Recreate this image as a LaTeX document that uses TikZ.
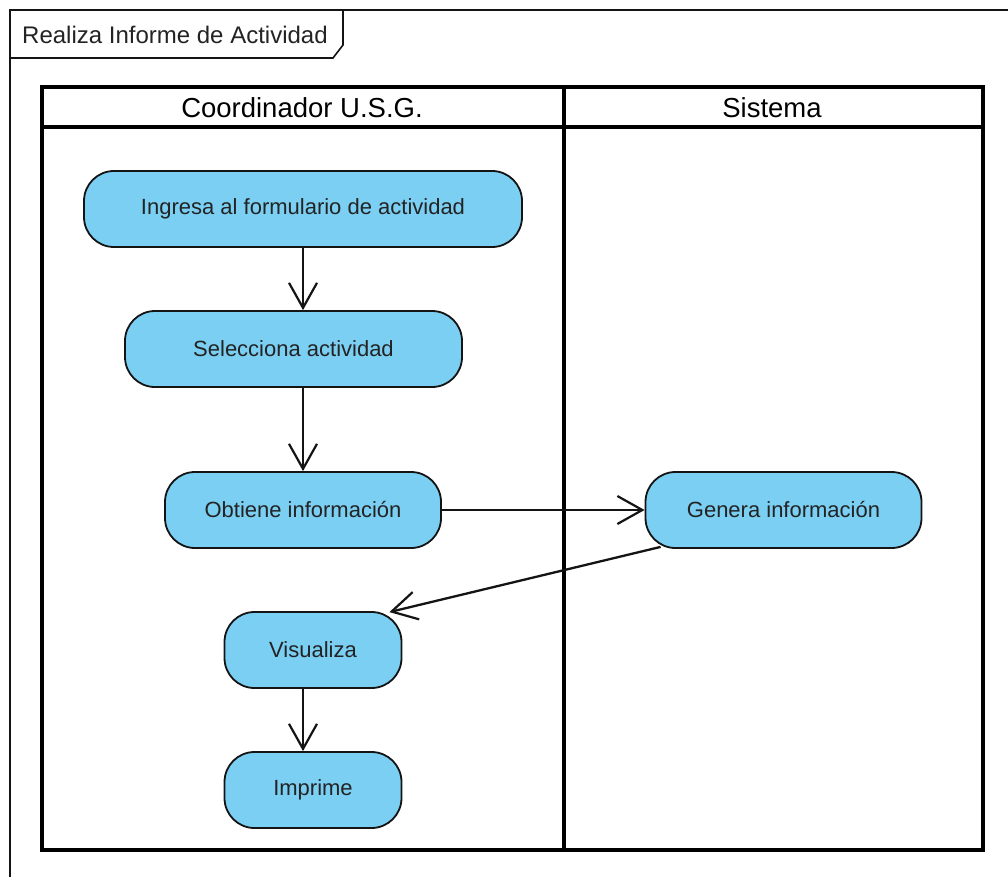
\documentclass[tikz,border=0pt]{standalone}
\usepackage{fontspec}
\setmainfont{Liberation Sans}
\usetikzlibrary{arrows.meta,calc}

\definecolor{actfill}{RGB}{122,207,243}
\definecolor{inkline}{RGB}{20,20,20}
\definecolor{inktext}{RGB}{35,35,35}

\tikzset{
  act/.style={draw=inkline, line width=1.8pt, fill=actfill, rounded corners=30pt,
    minimum height=76pt, inner sep=0pt, text=inktext,
    font=\fontsize{22}{26}\selectfont},
  flow/.style={draw=inkline, line width=1.7pt,
    -{Straight Barb[length=25pt, width=28pt, line width=2.2pt]}},
  lane/.style={draw=black, line width=3.8pt},
  lanetitle/.style={inner sep=0pt, text=black, font=\fontsize{27.5}{32}\selectfont},
}

\begin{document}
\begin{tikzpicture}[x=1pt, y=-1pt]
  \useasboundingbox (0,0) rectangle (1008,877);
  \fill[white] (0,0) rectangle (1008,877);

  % diagram frame with its name tab
  \draw[inkline, line width=1.6pt] (10,877) -- (10,10) -- (1008,10);
  \draw[inkline, line width=1.6pt] (10,58) -- (333,58) -- (343,45) -- (343,10);
  \node[anchor=west, inner sep=0pt, text=inktext, font=\fontsize{24}{28}\selectfont]
    (frametitle) at (22,35) {Realiza Informe de Actividad};

  % swimlanes
  \draw[lane] (42,87) rectangle (983,850);
  \draw[lane] (42,127) -- (983,127);
  \draw[lane] (564,87) -- (564,850);
  \node[lanetitle] (lane1) at (302,108) {Coordinador U.S.G.};
  \node[lanetitle] (lane2) at (772,108) {Sistema};

  % activities
  \node[act, minimum width=438pt] (ing) at (303,209) {Ingresa al formulario de actividad};
  \node[act, minimum width=337pt] (sel) at (293.5,349) {Selecciona actividad};
  \node[act, minimum width=276pt] (obt) at (303,510) {Obtiene información};
  \node[act, minimum width=276pt] (gen) at (783.5,510) {Genera información};
  \node[act, minimum width=177pt] (vis) at (313,650) {Visualiza};
  \node[act, minimum width=177pt] (imp) at (313,790) {Imprime};

  % control flows
  \draw[flow] (ing.south) -- (ing.south |- sel.north);
  \draw[flow] (sel.south -| obt.north) -- (obt.north);
  \draw[flow] (obt.east) -- (gen.west);
  \draw[flow, line width=2.3pt] ($(gen.south west)+(16,-2)$) -- ($(vis.north east)+(-13,1)$);
  \draw[flow] ($(vis.south)+(-10,0)$) -- ($(imp.north)+(-10,0)$);
\end{tikzpicture}
\end{document}
